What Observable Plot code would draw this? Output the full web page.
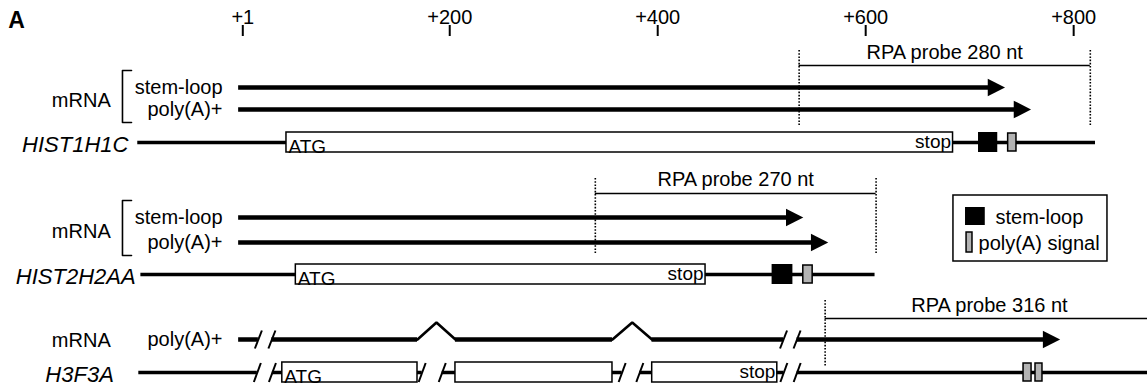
<!DOCTYPE html>
<html><head><meta charset="utf-8">
<script src="https://cdn.jsdelivr.net/npm/d3@7"></script>
<script src="https://cdn.jsdelivr.net/npm/@observablehq/plot@0.6"></script>
<style>
body{margin:0;background:#fff;overflow:hidden}
</style></head><body><div id="chart"></div>
<script>
// ---------------- data (positions in nucleotides, +1 = transcription start) ----------------
const panelLabel = "A";
const tickValues = [1, 200, 400, 600, 800];
const tickLabels = ["+1", "+200", "+400", "+600", "+800"];

const genes = ["HIST1H1C", "HIST2H2AA", "H3F3A"];
const geneStart = [-100, -97, -99];
const geneEnd = [821, 609, 877];
const exons = [[[43, 684]], [[52, 446]], [[39, 169], [205.5, 356.5], [394.7, 515]]];
const geneBreaks = [[], [], [[15, 29.5], [173.5, 192.8], [365.8, 382.8], [521.3, 534.1]]];
const stemLoops = [[[708.5, 727]], [[510, 530]], []];
const polyASignals = [[[737, 745]], [[540, 549]], [[751.8, 759.5], [763.3, 770]]];

const mrnaForms = [["stem-loop", "poly(A)+"], ["stem-loop", "poly(A)+"], ["poly(A)+"]];
const mrnaStart = -3;
const mrnaEnds = [[734, 759], [540, 564], [787]];
const mrnaBreaks = [[], [], [[16, 29], [521, 534]]];
const mrnaIntrons = [[], [], [[169, 205.5], [356.5, 394.5]]];

const probeStart = [536, 340, 561];
const probeLength = [280, 270, 316];
const probeLabels = ["RPA probe 280 nt", "RPA probe 270 nt", "RPA probe 316 nt"];

const legendLabels = ["stem-loop", "poly(A) signal"];

// ---------------- layout (vertical positions in px, horizontal in nt) ----------------
const W = 1147, H = 388;
const xDomain = [-232, 871];
const k = W / (xDomain[1] - xDomain[0]); // px per nt
const px = v => v / k;
const layout = [
  {mrnaY: [87, 109], geneY: 142, probeY: 65, probeTextY: 58, dotY: [50, 125], geneLabelX: -109, mrnaLabelDy: 8},
  {mrnaY: [217, 242], geneY: 274, probeY: 193, probeTextY: 185, dotY: [178, 253], geneLabelX: -102, mrnaLabelDy: 8},
  {mrnaY: [339], geneY: 372, probeY: 318, probeTextY: 311, dotY: [300, 367], geneLabelX: -123, mrnaLabelDy: 7}
];
const bracketX = [-106, -114.7];
const mrnaLabelX = -126, formLabelX = -18.5;
const legendBox = {x1: 684.4, x2: 832.5, y1: 195, y2: 261};

// ---------------- derived marks data ----------------
function cut(a, b, gaps) {
  const out = []; let s = a;
  for (const [g0, g1] of [...gaps].sort((p, q) => p[0] - q[0])) {
    if (g0 > s) out.push([s, Math.min(g0, b)]);
    s = Math.max(s, g1);
  }
  if (b > s) out.push([s, b]);
  return out;
}
const mrnaSegs = [], bumps = [], arrows = [], slashes = [], geneSegs = [], boxes = [], atgText = [], stopText = [];
const slRects = [], paRects = [], probes = [], textLabels = [], brackets = [];
genes.forEach((g, i) => {
  const L = layout[i];
  mrnaForms[i].forEach((f, j) => {
    const y = L.mrnaY[j], tip = mrnaEnds[i][j];
    for (const [a, b] of cut(mrnaStart, tip - px(6), [...mrnaBreaks[i], ...mrnaIntrons[i]])) mrnaSegs.push({a, b, y});
    mrnaIntrons[i].forEach(([a, b], n) => {
      const id = `${i}-${j}-${n}`;
      bumps.push({x: a, y, id}, {x: (a + b) / 2, y: y - 17, id}, {x: b, y, id});
    });
    mrnaBreaks[i].forEach(br => br.forEach(x => slashes.push({x, y, h: 9})));
    arrows.push({x: tip, y});
    textLabels.push({x: formLabelX, y: y + 6, text: f});
  });
  const ym = d3.mean(L.mrnaY);
  textLabels.push({x: mrnaLabelX, y: ym + L.mrnaLabelDy, text: "mRNA"});
  if (L.mrnaY.length > 1) {
    const y1 = L.mrnaY[0] - 17, y2 = L.mrnaY[L.mrnaY.length - 1] + 13;
    brackets.push({x: bracketX[0], y: y1, id: i}, {x: bracketX[1], y: y1, id: i}, {x: bracketX[1], y: y2, id: i}, {x: bracketX[0], y: y2, id: i});
  }
  const gy = L.geneY;
  for (const [a, b] of cut(geneStart[i], geneEnd[i], geneBreaks[i])) geneSegs.push({a, b, y: gy});
  geneBreaks[i].forEach(br => br.forEach(x => slashes.push({x, y: gy, h: 9.5})));
  exons[i].forEach(([a, b]) => boxes.push({a, b, y: gy}));
  const ex = exons[i];
  atgText.push({x: ex[0][0] + px(2), y: gy + 10, text: "ATG"});
  stopText.push({x: ex[ex.length - 1][1] - px(2), y: gy + 5, text: "stop"});
  stemLoops[i].forEach(([a, b]) => slRects.push({a, b, y1: gy - 10, y2: gy + 10}));
  polyASignals[i].forEach(([a, b]) => paRects.push({a, b, y1: gy - 9, y2: gy + 9}));
  probes.push({a: probeStart[i], b: probeStart[i] + probeLength[i], y: L.probeY, ty: L.probeTextY,
               d1: L.dotY[0], d2: L.dotY[1], label: probeLabels[i]});
});
const geneLabels = genes.map((g, i) => ({x: layout[i].geneLabelX, y: layout[i].geneY + 9, text: g}));

const arrowSymbol = {draw(ctx) { ctx.moveTo(0, 0); ctx.lineTo(-17.3, -8.8); ctx.lineTo(-17.3, 8.8); ctx.closePath(); }};
const font = "Liberation Sans, Arial, Helvetica, sans-serif";

const chart = Plot.plot({
  width: W, height: H, margin: 0,
  style: {fontFamily: font, fontSize: "20px", background: "white", color: "black", overflow: "hidden"},
  x: {domain: xDomain, range: [0, W], axis: null},
  y: {domain: [0, H], range: [0, H], axis: null},
  marks: [
    Plot.text([panelLabel], {x: -224.5, y: 27.5, text: d => d, fontWeight: "bold", fontSize: 23, textAnchor: "start", lineAnchor: "bottom"}),
    Plot.ruleX(tickValues, {x: d => d, y1: 25, y2: 36, strokeWidth: 2}),
    Plot.text(tickValues, {x: d => d, y: 23, text: (d, i) => tickLabels[i], fontSize: 20, lineAnchor: "bottom"}),
    // probes
    Plot.ruleY(probes, {x1: "a", x2: "b", y: "y", strokeWidth: 1.3}),
    Plot.ruleX(probes.flatMap(p => [{x: p.a, y1: p.d1, y2: p.d2}, ...(p.b < xDomain[1] ? [{x: p.b, y1: p.d1, y2: p.d2}] : [])]),
      {x: "x", y1: "y1", y2: "y2", strokeWidth: 1.6, strokeDasharray: "1.6 1.6"}),
    Plot.text(probes, {x: p => (p.a + p.b) / 2, y: "ty", text: "label", fontSize: 20, lineAnchor: "bottom"}),
    // mRNA
    Plot.ruleY(mrnaSegs, {x1: "a", x2: "b", y: "y", strokeWidth: 4.5}),
    Plot.line(bumps, {x: "x", y: "y", z: "id", strokeWidth: 2.6, strokeLinejoin: "miter"}),
    Plot.dot(arrows, {x: "x", y: "y", symbol: arrowSymbol, r: 8, fill: "black", stroke: "none"}),
    // gene
    Plot.ruleY(geneSegs, {x1: "a", x2: "b", y: "y", strokeWidth: 3.5}),
    Plot.rect(boxes, {x1: "a", x2: "b", y1: d => d.y - 10, y2: d => d.y + 10, fill: "white", stroke: "black", strokeWidth: 1.5}),
    Plot.link(slashes, {x1: d => d.x - px(3.5), x2: d => d.x + px(3.5), y1: d => d.y + d.h, y2: d => d.y - d.h, strokeWidth: 2}),
    Plot.text(atgText, {x: "x", y: "y", text: "text", textAnchor: "start", fontSize: 19, lineAnchor: "bottom"}),
    Plot.text(stopText, {x: "x", y: "y", text: "text", textAnchor: "end", fontSize: 19, lineAnchor: "bottom"}),
    Plot.rect(slRects, {x1: "a", x2: "b", y1: "y1", y2: "y2", fill: "black"}),
    Plot.rect(paRects, {x1: "a", x2: "b", y1: "y1", y2: "y2", fill: "#b3b3b3", stroke: "black", strokeWidth: 1.5}),
    // labels
    Plot.text(textLabels, {x: "x", y: "y", text: "text", textAnchor: "end", fontSize: 20, lineAnchor: "bottom"}),
    Plot.text(geneLabels, {x: "x", y: "y", text: "text", textAnchor: "end", fontSize: 22, fontStyle: "italic", lineAnchor: "bottom"}),
    Plot.line(brackets, {x: "x", y: "y", z: "id", strokeWidth: 1.6}),
    // legend
    Plot.rect([legendBox], {x1: "x1", x2: "x2", y1: "y1", y2: "y2", fill: "none", stroke: "black", strokeWidth: 1.5}),
    Plot.rect([{a: 696, b: 715, y1: 207, y2: 225}], {x1: "a", x2: "b", y1: "y1", y2: "y2", fill: "black"}),
    Plot.rect([{a: 697, b: 702.7, y1: 232, y2: 252}], {x1: "a", x2: "b", y1: "y1", y2: "y2", fill: "#b3b3b3", stroke: "black", strokeWidth: 1.5}),
    Plot.text(legendLabels, {x: (d, i) => [724.8, 708.5][i], y: (d, i) => [223, 249][i], text: d => d, textAnchor: "start", fontSize: 20, lineAnchor: "bottom"})
  ]
});
document.getElementById("chart").appendChild(chart);
</script></body></html>
